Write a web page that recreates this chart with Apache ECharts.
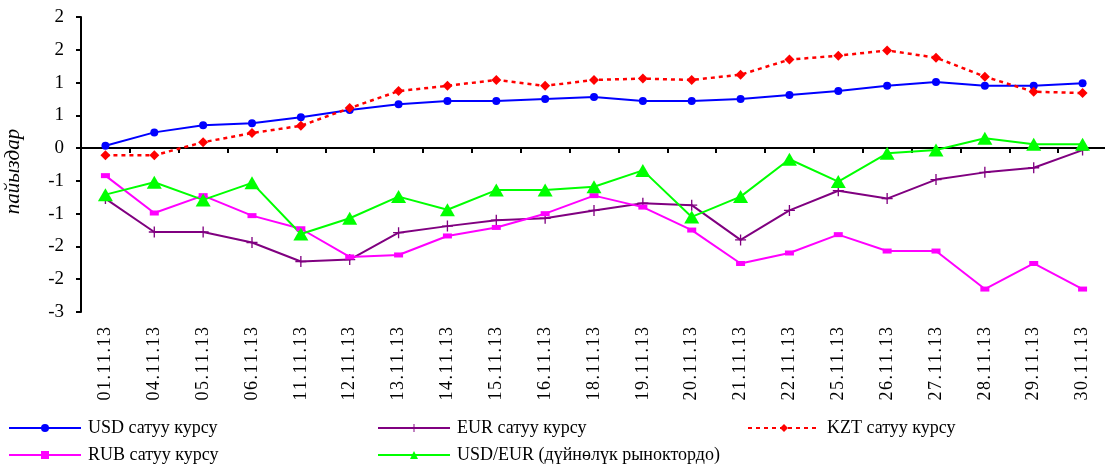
<!DOCTYPE html>
<html>
<head>
<meta charset="utf-8">
<script src="https://cdn.jsdelivr.net/npm/echarts@6/dist/echarts.min.js"></script>
<style>html,body{margin:0;padding:0;background:#fff;}#c{width:1105px;height:465px;}</style>
</head>
<body>
<div id="c"></div>
<script>
const categories = ['01.11.13','04.11.13','05.11.13','06.11.13','11.11.13','12.11.13','13.11.13','14.11.13','15.11.13','16.11.13','18.11.13','19.11.13','20.11.13','21.11.13','22.11.13','25.11.13','26.11.13','27.11.13','28.11.13','29.11.13','30.11.13'];
const seriesNames = ['USD сатуу курсу','EUR сатуу курсу','KZT сатуу курсу','RUB сатуу курсу','USD/EUR (дүйнөлүк рыноктордо)'];
const usd = [0.035,0.24,0.35,0.38,0.47,0.58,0.67,0.72,0.72,0.75,0.78,0.72,0.72,0.75,0.81,0.87,0.95,1.01,0.95,0.95,0.99];
const eur = [-0.77,-1.28,-1.28,-1.44,-1.73,-1.70,-1.29,-1.19,-1.10,-1.07,-0.95,-0.84,-0.87,-1.40,-0.95,-0.65,-0.77,-0.48,-0.37,-0.30,-0.03];
const kzt = [-0.11,-0.11,0.09,0.23,0.34,0.61,0.87,0.95,1.04,0.95,1.04,1.06,1.04,1.12,1.35,1.41,1.49,1.38,1.09,0.86,0.84];
const rub = [-0.42,-0.99,-0.725,-1.03,-1.23,-1.66,-1.63,-1.34,-1.21,-1.00,-0.725,-0.90,-1.25,-1.76,-1.60,-1.32,-1.57,-1.57,-2.15,-1.76,-2.15];
const usdeur = [-0.71,-0.52,-0.79,-0.53,-1.31,-1.07,-0.74,-0.94,-0.64,-0.64,-0.59,-0.34,-1.05,-0.74,-0.17,-0.51,-0.08,-0.03,0.15,0.06,0.06];
const yName = 'пайыздар';

const FONT = "'Liberation Serif','Times New Roman',serif";
const chart = echarts.init(document.getElementById('c'));
const plus = 'path://M4.4,0h1.2v4.4h4.4v1.2h-4.4v4.4h-1.2v-4.4h-4.4v-1.2h4.4z';
function legendAt(name, left, top) {
  return {data:[name], left:left, top:top, padding:0, itemWidth:72, itemHeight:10, itemGap:0,
    textStyle:{fontFamily:FONT, fontSize:18, color:'#000', padding:[0,0,0,2]}, selectedMode:false};
}
chart.setOption({
  animation:false,
  backgroundColor:'#fff',
  grid:{left:81, right:-2, top:17, bottom:153, containLabel:false, outerBoundsMode:'none'},
  legend:[
    legendAt(seriesNames[0], 8, 419),
    legendAt(seriesNames[1], 377, 419),
    legendAt(seriesNames[2], 747, 419),
    legendAt(seriesNames[3], 8, 446),
    legendAt(seriesNames[4], 377, 446)
  ],
  xAxis:[
    {type:'category', data:categories, position:'bottom', boundaryGap:true,
      axisLine:{show:false, onZero:false}, axisTick:{show:false},
      axisLabel:{rotate:90, margin:15, fontFamily:FONT, fontSize:18, color:'#000', interval:0,
        formatter:function(s){return s.split('').join('\u200A');}}},
    {type:'category', data:categories, position:'top', boundaryGap:true,
      axisLine:{show:true, onZero:true, lineStyle:{color:'#000', width:2}},
      axisTick:{show:true, inside:true, length:5, interval:0, lineStyle:{color:'#000', width:2}},
      axisLabel:{show:false}}
  ],
  yAxis:{type:'value', min:-2.5, max:2, interval:0.5, name:yName, nameLocation:'middle', nameGap:57, nameRotate:90,
    nameTextStyle:{fontFamily:FONT, fontSize:21, fontStyle:'italic', color:'#000', padding:[0,14,0,0]},
    axisLine:{show:true, onZero:false, lineStyle:{color:'#000', width:2}},
    axisTick:{show:true, length:5, lineStyle:{color:'#000', width:2}},
    splitLine:{show:false},
    axisLabel:{margin:17, fontFamily:FONT, fontSize:19, color:'#000',
      formatter:function(v){var r=Math.sign(v)*Math.round(Math.abs(v)); return String(r===0?0:r);}}},
  series:[
    {name:seriesNames[0], type:'line', data:usd, symbol:'circle', symbolSize:8,
      lineStyle:{color:'#0000FF', width:2}, itemStyle:{color:'#0000FF'}},
    {name:seriesNames[1], type:'line', data:eur, symbol:plus, symbolSize:11,
      lineStyle:{color:'#800080', width:2}, itemStyle:{color:'#800080'}},
    {name:seriesNames[2], type:'line', data:kzt, symbol:'diamond', symbolSize:10,
      lineStyle:{color:'#FF0000', width:2.5, type:[4,4]}, itemStyle:{color:'#FF0000'}},
    {name:seriesNames[3], type:'line', data:rub, symbol:'rect', symbolSize:[9,5],
      lineStyle:{color:'#FF00FF', width:2}, itemStyle:{color:'#FF00FF'}},
    {name:seriesNames[4], type:'line', data:usdeur, symbol:'triangle', symbolSize:[15,13],
      lineStyle:{color:'#00FF00', width:2}, itemStyle:{color:'#00FF00'}}
  ]
});
</script>
</body>
</html>
